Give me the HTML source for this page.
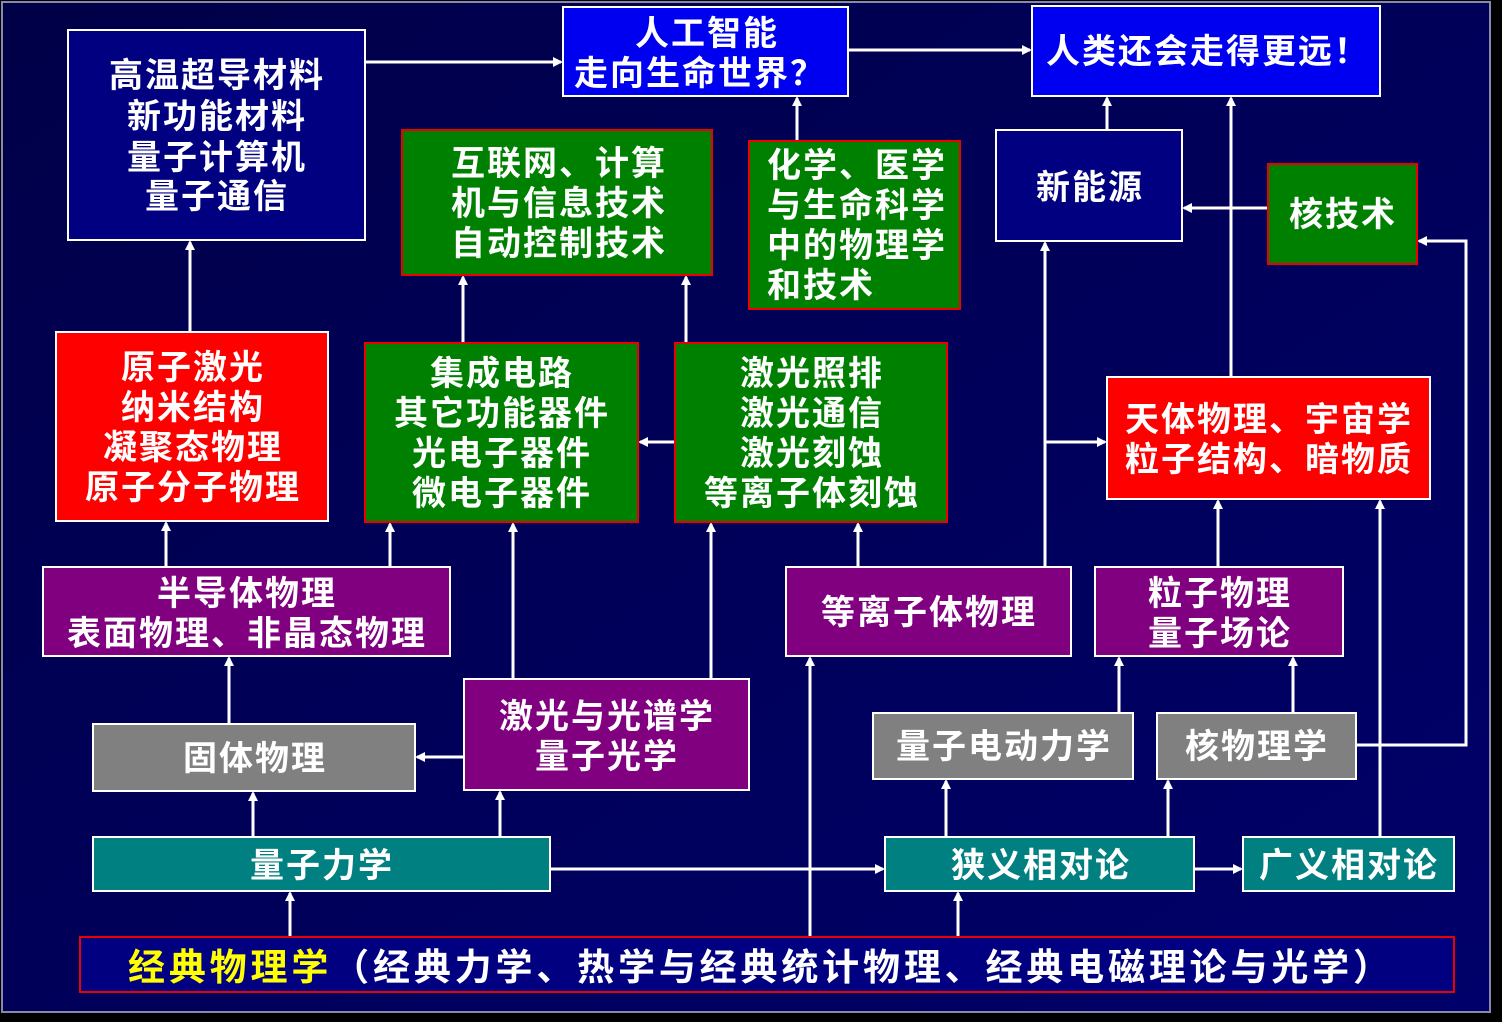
<!DOCTYPE html>
<html><head><meta charset="utf-8"><style>
html,body{margin:0;padding:0;background:#000;}
svg{display:block}
text{font-family:"Liberation Sans","Noto Sans CJK SC",sans-serif;font-weight:bold;fill:#fff;font-size:34px;letter-spacing:2px;}
</style></head><body>
<svg width="1502" height="1022" xmlns="http://www.w3.org/2000/svg">
<defs>
<marker id="a" markerWidth="10" markerHeight="10" refX="8" refY="5" orient="auto" markerUnits="userSpaceOnUse"><path d="M0,0 L10,5 L0,10 Z" fill="#fff"/></marker>
<linearGradient id="bg" x1="0" y1="0" x2="1" y2="1"><stop offset="0" stop-color="#000048"/><stop offset="1" stop-color="#00006a"/></linearGradient>
</defs>
<rect x="0" y="0" width="1502" height="1022" fill="#000"/>
<rect x="2" y="2" width="1488" height="1010" fill="url(#bg)" stroke="#8888aa" stroke-width="2"/>
<g stroke="#fff" stroke-width="3" fill="none" marker-end="url(#a)">
<path d="M365,62H561"/><path d="M848,50H1030"/>
<path d="M190,332V242"/><path d="M463,343V277"/><path d="M686,343V277"/>
<path d="M797,141V98"/><path d="M1107,130V98"/><path d="M1231,377V98"/>
<path d="M1268,208H1184"/><path d="M1045,567V243"/><path d="M1045,442H1105"/>
<path d="M675,442H640"/><path d="M166,567V523"/><path d="M390,567V524"/>
<path d="M513,679V524"/><path d="M711,679V524"/><path d="M858,567V524"/>
<path d="M1218,567V501"/><path d="M1380,837V501"/><path d="M1119,713V658"/><path d="M1293,713V658"/>
<path d="M1356,745H1466V241H1419"/><path d="M229,724V658"/><path d="M464,757H417"/>
<path d="M253,837V793"/><path d="M500,837V792"/><path d="M810,937V658"/>
<path d="M550,869H883"/><path d="M946,837V781"/><path d="M1168,837V781"/>
<path d="M1194,869H1241"/><path d="M290,937V893"/><path d="M958,937V893"/>
</g>
<g stroke-width="2">
<rect x="68" y="30" width="297" height="210" fill="#000080" stroke="#fff"/>
<rect x="563" y="7" width="285" height="89" fill="#0000f0" stroke="#fff"/>
<rect x="1032" y="6" width="348" height="90" fill="#0000f0" stroke="#fff"/>
<rect x="402" y="130" width="310" height="145" fill="#008000" stroke="#e00"/>
<rect x="749" y="141" width="211" height="168" fill="#008000" stroke="#e00"/>
<rect x="996" y="130" width="186" height="111" fill="#000080" stroke="#fff"/>
<rect x="1268" y="164" width="149" height="100" fill="#008000" stroke="#e00"/>
<rect x="56" y="332" width="272" height="189" fill="#ff0000" stroke="#fff"/>
<rect x="365" y="343" width="273" height="179" fill="#008000" stroke="#e00"/>
<rect x="675" y="343" width="272" height="179" fill="#008000" stroke="#e00"/>
<rect x="1107" y="377" width="323" height="122" fill="#ff0000" stroke="#fff"/>
<rect x="43" y="567" width="407" height="89" fill="#800080" stroke="#fff"/>
<rect x="786" y="567" width="285" height="89" fill="#800080" stroke="#fff"/>
<rect x="1095" y="567" width="248" height="89" fill="#800080" stroke="#fff"/>
<rect x="464" y="679" width="285" height="111" fill="#800080" stroke="#fff"/>
<rect x="93" y="724" width="322" height="67" fill="#808080" stroke="#fff"/>
<rect x="873" y="713" width="260" height="66" fill="#808080" stroke="#fff"/>
<rect x="1157" y="713" width="199" height="66" fill="#808080" stroke="#fff"/>
<rect x="93" y="837" width="457" height="54" fill="#008080" stroke="#fff"/>
<rect x="885" y="837" width="309" height="54" fill="#008080" stroke="#fff"/>
<rect x="1243" y="837" width="211" height="54" fill="#008080" stroke="#fff"/>
<rect x="80" y="937" width="1374" height="55" fill="#000080" stroke="#e00"/>
</g>
<g text-anchor="middle">
<text x="217" y="87">高温超导材料</text><text x="217" y="128">新功能材料</text><text x="217" y="169">量子计算机</text><text x="217" y="208">量子通信</text>
<text x="707" y="45">人工智能</text><text x="700" y="85">走向生命世界？</text>
<text x="1208" y="63">人类还会走得更远！</text>
<text x="559" y="175">互联网、计算</text><text x="559" y="215">机与信息技术</text><text x="559" y="255">自动控制技术</text>
<text x="1090" y="199">新能源</text>
<text x="1343" y="226">核技术</text>
<text x="193" y="379">原子激光</text><text x="193" y="419">纳米结构</text><text x="193" y="459">凝聚态物理</text><text x="193" y="499">原子分子物理</text>
<text x="502" y="385">集成电路</text><text x="502" y="425">其它功能器件</text><text x="502" y="465">光电子器件</text><text x="502" y="505">微电子器件</text>
<text x="812" y="385">激光照排</text><text x="812" y="425">激光通信</text><text x="812" y="465">激光刻蚀</text><text x="812" y="505">等离子体刻蚀</text>
<text x="1269" y="431">天体物理、宇宙学</text><text x="1269" y="471">粒子结构、暗物质</text>
<text x="247" y="605">半导体物理</text><text x="247" y="645">表面物理、非晶态物理</text>
<text x="929" y="624">等离子体物理</text>
<text x="1220" y="605">粒子物理</text><text x="1220" y="645">量子场论</text>
<text x="607" y="728">激光与光谱学</text><text x="607" y="768">量子光学</text>
<text x="255" y="770">固体物理</text>
<text x="1004" y="758">量子电动力学</text>
<text x="1257" y="758">核物理学</text>
<text x="322" y="877">量子力学</text>
<text x="1041" y="877">狭义相对论</text>
<text x="1349" y="877">广义相对论</text>
</g>
<text><tspan x="767" y="177">化学、医学</tspan><tspan x="767" y="217">与生命科学</tspan><tspan x="767" y="257">中的物理学</tspan><tspan x="767" y="297">和技术</tspan></text>
<text x="128" y="980" textLength="1262" lengthAdjust="spacing" style="font-size:37px;letter-spacing:0px"><tspan style="fill:#ffff00">经典物理学</tspan>（经典力学、热学与经典统计物理、经典电磁理论与光学）</text>
</svg>
</body></html>
